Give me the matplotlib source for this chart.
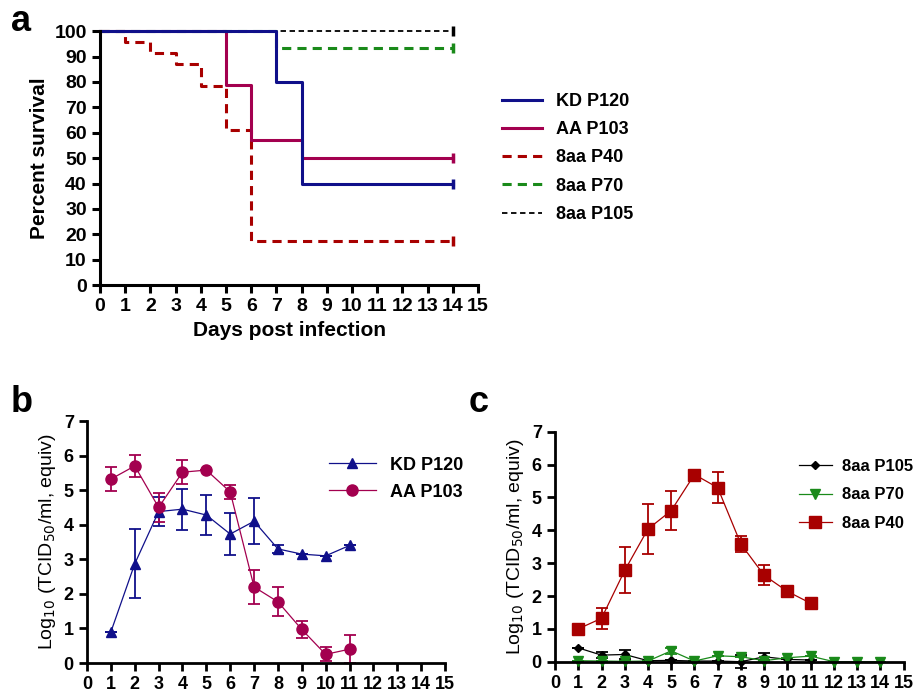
import numpy as np
import matplotlib
matplotlib.use('Agg')
from matplotlib import pyplot as plt

plt.rcParams['font.family'] = ['Liberation Sans', 'DejaVu Sans']

# panel a - survival curves (step times, percent)
kd_t = [0, 7, 8, 14]
kd_s = [100, 80, 40, 40]
aa_t = [0, 5, 6, 8, 14]
aa_s = [100, 78.6, 57.1, 50, 50]
p40_t = [0, 1, 2, 3, 4, 5, 6, 14]
p40_s = [100, 95.7, 91.3, 87.0, 78.3, 60.9, 17.4, 17.4]
p70_t = [0, 7, 14]
p70_s = [100, 93.3, 93.3]
p105_t = [0, 14]
p105_s = [100, 100]

# panel b - titers
days_b = [1, 2, 3, 4, 5, 6, 7, 8, 9, 10, 11]
kd_titer = [0.9, 2.87, 4.38, 4.45, 4.28, 3.73, 4.1, 3.3, 3.15, 3.1, 3.4]
kd_err = [0, 1.0, 0.43, 0.59, 0.59, 0.62, 0.67, 0.11, 0, 0, 0]
aa_titer = [5.32, 5.7, 4.5, 5.52, 5.58, 4.95, 2.2, 1.77, 0.97, 0.25, 0.4]
aa_err = [0.34, 0.31, 0.43, 0.35, 0, 0.2, 0.49, 0.42, 0.25, 0.2, 0.4]

# panel c
days_c = [1, 2, 3, 4, 5, 6, 7, 8, 9, 10, 11]
p105_titer = [0.42, 0.2, 0.22, 0.03, 0.04, 0.02, 0.02, 0.0, 0.15, 0.07, 0.05]
p105_err = [0, 0.1, 0.13, 0, 0, 0, 0, 0.2, 0.1, 0, 0]
days_p70 = [1, 2, 3, 4, 5, 6, 7, 8, 9, 10, 11, 12, 13, 14]
p70_titer = [0.03, 0.02, 0.01, 0.02, 0.33, 0.02, 0.18, 0.15, 0.03, 0.12, 0.17, 0, 0, 0]
p70_err = [0, 0, 0, 0, 0.1, 0, 0, 0, 0, 0, 0, 0, 0, 0]
p40_titer = [1.0, 1.32, 2.78, 4.04, 4.6, 5.7, 5.3, 3.58, 2.63, 2.14, 1.78]
p40_err = [0, 0.32, 0.7, 0.75, 0.6, 0.14, 0.47, 0.25, 0.3, 0.18, 0.16]

navy = '#10108a'
maroon = '#a3004f'
darkred = '#a80000'
green = '#1a8a1a'

fig = plt.figure(figsize=(9.22, 6.92), dpi=100)


def style_axes(ax, lw):
    for s in ['top', 'right']:
        ax.spines[s].set_visible(False)
    for s in ['left', 'bottom']:
        ax.spines[s].set_linewidth(lw)
    ax.tick_params(width=lw, length=6, direction='out')
    for lab in ax.get_xticklabels() + ax.get_yticklabels():
        lab.set_fontweight('bold')


# ---- panel a
ax = fig.add_axes([0.1085, 0.588, 0.41, 0.367])
series = [(kd_t, kd_s, navy, '-', 'KD P120'),
          (aa_t, aa_s, maroon, '-', 'AA P103'),
          (p40_t, p40_s, darkred, '--', '8aa P40'),
          (p70_t, p70_s, green, '--', '8aa P70'),
          (p105_t, p105_s, 'black', '--', '8aa P105')]
order = [4, 3, 2, 1, 0]
handles = [None] * 5
for i in order:
    t, s, c, ls, lab = series[i]
    lw = 1.3 if i == 4 else 2.2
    h, = ax.step(t, s, where='post', color=c, ls=ls, lw=lw, label=lab,
                 clip_on=False, dashes=(3, 2) if ls == '--' else (None, None))
    ax.plot([t[-1]], [s[-1]], marker='|', color=c, ms=7, mew=2.5, clip_on=False)
    handles[i] = h
ax.set_xlim(0, 15)
ax.set_ylim(0, 100)
ax.set_xticks(range(0, 16))
ax.set_yticks(range(0, 101, 10))
ax.tick_params(labelsize=14)
ax.set_xlabel('Days post infection', fontsize=15, fontweight='bold')
ax.set_ylabel('Percent survival', fontsize=15, fontweight='bold')
style_axes(ax, 2.2)
leg = ax.legend(handles=handles, loc='upper left', bbox_to_anchor=(1.02, 0.82),
                frameon=False, prop={'size': 13, 'weight': 'bold'},
                handlelength=2.2, labelspacing=0.62)
fig.text(0.012, 0.955, 'a', fontsize=26, fontweight='bold')

# ---- panel b
ax = fig.add_axes([0.0944, 0.0419, 0.3882, 0.3497])
ax.errorbar(days_b, kd_titer, yerr=kd_err, color=navy, marker='^', ms=7,
            lw=0.9, elinewidth=1.3, capsize=4, capthick=1.3, label='KD P120', clip_on=False)
ax.errorbar(days_b, aa_titer, yerr=aa_err, color=maroon, marker='o', ms=8,
            lw=0.9, elinewidth=1.3, capsize=4, capthick=1.3, label='AA P103', clip_on=False)
ax.set_xlim(0, 15)
ax.set_ylim(0, 7)
ax.set_xticks(range(0, 16))
ax.set_yticks(range(0, 8))
ax.tick_params(labelsize=13)
ax.set_ylabel('Log$_{10}$ (TCID$_{50}$/ml, equiv)', fontsize=14)
style_axes(ax, 2)
h, l = ax.get_legend_handles_labels()
ax.legend([x[0] for x in h], l, loc='upper left', bbox_to_anchor=(0.63, 0.92), frameon=False,
          prop={'size': 13, 'weight': 'bold'}, handlelength=2.6, labelspacing=0.55)
fig.text(0.012, 0.405, 'b', fontsize=26, fontweight='bold')

# ---- panel c
ax = fig.add_axes([0.602, 0.0438, 0.378, 0.3322])
ax.errorbar(days_c, p105_titer, yerr=p105_err, color='black', marker='D', ms=4,
            lw=0.9, elinewidth=1.3, capsize=4, capthick=1.3, label='8aa P105', clip_on=False)
ax.errorbar(days_p70, p70_titer, yerr=p70_err, color=green, marker='v', ms=7,
            lw=0.9, elinewidth=1.3, capsize=4, capthick=1.3, label='8aa P70', clip_on=False)
ax.errorbar(days_c, p40_titer, yerr=p40_err, color=darkred, marker='s', ms=8,
            lw=0.9, elinewidth=1.3, capsize=4, capthick=1.3, label='8aa P40', clip_on=False)
ax.set_xlim(0, 15)
ax.set_ylim(0, 7)
ax.set_xticks(range(0, 16))
ax.set_yticks(range(0, 8))
ax.tick_params(labelsize=13)
ax.set_ylabel('Log$_{10}$ (TCID$_{50}$/ml, equiv)', fontsize=14)
style_axes(ax, 2)
h, l = ax.get_legend_handles_labels()
ax.legend([x[0] for x in h], l, loc='upper left', bbox_to_anchor=(0.68, 0.91), borderaxespad=0,
          frameon=False, prop={'size': 12, 'weight': 'bold'}, handlelength=2.0,
          handletextpad=0.6, labelspacing=0.8)
fig.text(0.508, 0.405, 'c', fontsize=26, fontweight='bold')

fig.savefig('out.png', dpi=100)
